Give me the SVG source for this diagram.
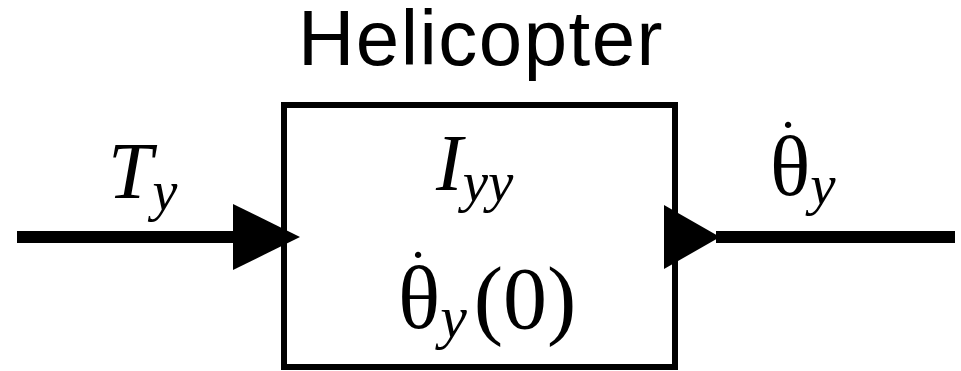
<svg xmlns="http://www.w3.org/2000/svg" width="961" height="371" viewBox="0 0 961 371">
<style>
.m{font-family:"Liberation Serif","Times New Roman",serif;fill:#000}
.i{font-style:italic}
.t{font-family:"Liberation Sans",Arial,sans-serif;fill:#000}
.c{stroke:#000;stroke-width:12;fill:none}
</style>
<rect width="961" height="371" fill="#fff"/>
<text class="t" x="481" y="65" font-size="78" text-anchor="middle" letter-spacing="1.5">Helicopter</text>
<g id="helicopter">
<rect x="284" y="105" width="391" height="262" fill="#fff" stroke="#000" stroke-width="6"/>
<text class="m" x="436" y="190" font-size="80"><tspan class="i">I</tspan><tspan class="i" font-size="57" dy="11">yy</tspan></text>
<text class="m" font-size="88"><tspan x="408" y="291" font-size="60">˙</tspan><tspan x="398" y="328">θ</tspan><tspan class="i" font-size="60" dy="9">y</tspan><tspan dy="-9" dx="7">(0)</tspan></text>
</g>
<g id="connectors">
<line class="c" x1="17" y1="237" x2="236" y2="237"/>
<polygon points="233,204 300,237 233,270" fill="#000"/>
<text class="m i" x="108" y="198" font-size="80">T<tspan font-size="56" dy="12">y</tspan></text>
<line class="c" x1="716" y1="237" x2="955" y2="237"/>
<polygon points="664,205 720,237 664,269" fill="#000"/>
<text class="m" font-size="84"><tspan x="778" y="161" font-size="60">˙</tspan><tspan x="770" y="195">θ</tspan><tspan class="i" font-size="57" dy="9">y</tspan></text>
</g>
</svg>
